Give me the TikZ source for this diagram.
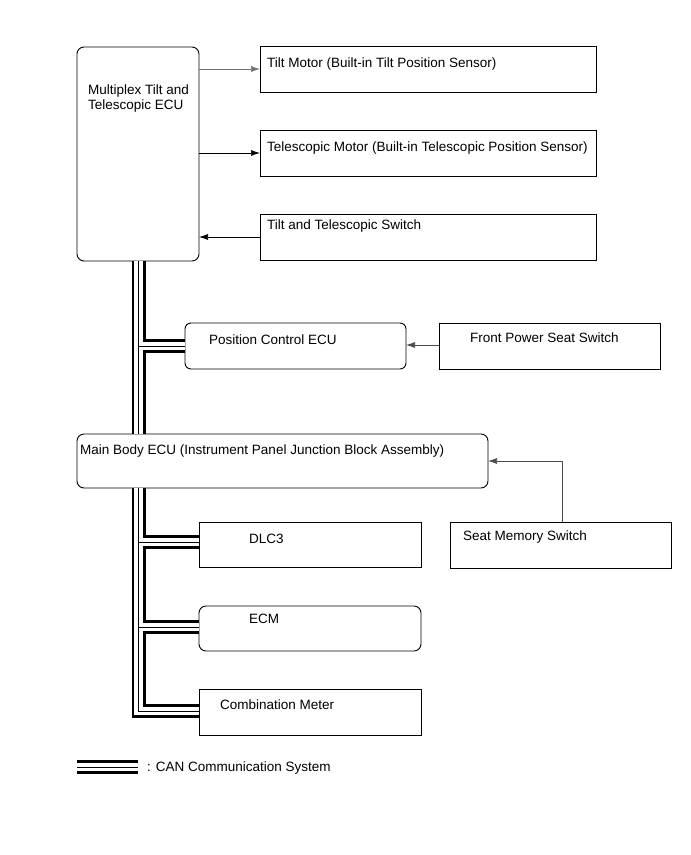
\documentclass[tikz,border=0pt]{standalone}
\usepackage{fontspec}
\setmainfont{Liberation Sans}
\usetikzlibrary{arrows.meta}
\begin{document}
\begin{tikzpicture}[x=1pt,y=-1pt,
  box/.style={draw=black, line width=0.9pt, anchor=north west, inner sep=0pt, outer sep=0pt},
  rbox/.style={box, rounded corners=7pt},
  txt/.style={anchor=base west, inner sep=0pt, font=\fontsize{13.5}{15}\selectfont},
  sig/.style={line width=0.7pt, -{Latex[length=9pt,width=6pt]}},
  busA/.style={line width=14pt, line join=miter},
  busB/.style={line width=8.6pt, white, line join=miter},
  busC/.style={line width=1pt, line join=miter}]
\useasboundingbox (0,0) rectangle (691,855);

% boxes
\node[rbox, minimum width=122, minimum height=214] (ecu) at (77,47) {};
\node[box, minimum width=336, minimum height=46] (tilt) at (260,46) {};
\node[box, minimum width=336, minimum height=46] (tele) at (260,130) {};
\node[box, minimum width=336, minimum height=46] (sw) at (260,214) {};
\node[rbox, rounded corners=6pt, minimum width=221, minimum height=46] (pos) at (185,323) {};
\node[box, minimum width=221, minimum height=46] (fps) at (439,323) {};
\node[rbox, minimum width=411, minimum height=54] (main) at (77,434) {};
\node[box, minimum width=221, minimum height=46] (seat) at (450,522) {};
\node[box, minimum width=222, minimum height=45] (dlc) at (199,522) {};
\node[rbox, minimum width=222, minimum height=45] (ecm) at (199,606) {};
\node[box, minimum width=222, minimum height=46] (comb) at (199,689) {};

% texts
\node[txt] (ecuT1) at (88,94) {Multiplex Tilt and};
\node[txt] (ecuT2) at (88,109) {Telescopic ECU};
\node[txt] (tiltT) at (267,67.5) {Tilt Motor (Built-in Tilt Position Sensor)};
\node[txt] (teleT) at (267,151.5) {Telescopic Motor (Built-in Telescopic Position Sensor)};
\node[txt] (swT) at (267,229.5) {Tilt and Telescopic Switch};
\node[txt] (posT) at (209,344) {Position Control ECU};
\node[txt] (fpsT) at (470,342) {Front Power Seat Switch};
\node[txt] (mainT) at (80,454) {Main Body ECU (Instrument Panel Junction Block Assembly)};
\node[txt] (seatT) at (463,540) {Seat Memory Switch};
\node[txt] (dlcT) at (249,543) {DLC3};
\node[txt] (ecmT) at (249,623) {ECM};
\node[txt] (combT) at (220,709) {Combination Meter};
\node[txt] (legT) at (147,771) {: CAN Communication System};

% signal arrows
\draw[sig, draw=black!55] (ecu.east |- 0,69) -- (tilt.west |- 0,69);
\draw[sig] (ecu.east |- 0,153) -- (tele.west |- 0,153);
\draw[sig] (sw.west |- 0,237) -- (ecu.east |- 0,237);
\draw[sig, draw=black!70] (fps.west |- 0,345) -- (pos.east |- 0,345);
\coordinate (seatUp) at (562,461);
\draw[sig, draw=black!70] (seat.north -| seatUp) -- (seatUp) -- (main.east |- seatUp);

% CAN bus
\coordinate (b1) at (138.5,346);
\coordinate (b2) at (138.5,542);
\coordinate (b3) at (138.5,627);
\coordinate (b4) at (138.5,711);
\coordinate (l1) at (77,767);
\coordinate (l2) at (138,767);
\foreach \s in {busA,busB,busC}{
  \draw[\s] (ecu.south -| b1) -- (main.north -| b1);
  \draw[\s] (b1) -- (pos.west |- b1);
  \draw[\s] (main.south -| b4) -- (b4) -- (comb.west |- b4);
  \draw[\s] (b2) -- (dlc.west |- b2);
  \draw[\s] (b3) -- (ecm.west |- b3);
  \draw[\s] (l1) -- (l2);
}
\end{tikzpicture}
\end{document}
